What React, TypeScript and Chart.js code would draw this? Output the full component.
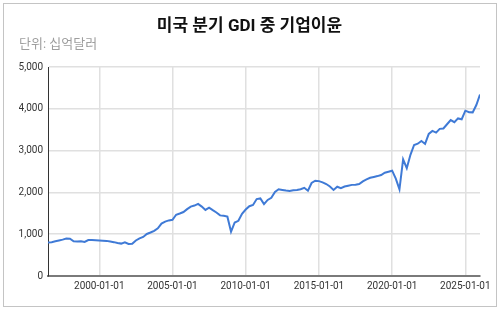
import React, { useEffect, useRef } from "react";
import { Chart, registerables } from "chart.js";

Chart.register(...registerables);

const titleText = "미국 분기 GDI 중 기업이윤";
const subtitleText = "단위: 십억달러";

// quarterly series, first quarter = 1996-07-01
const firstYear = 1996;
const firstQuarter = 3; // Q3
const profits = [
  800, 810, 830, 850, 870, 895, 890, 830, 825, 830,
  815, 860, 860, 855, 850, 845, 840, 825, 810, 790,
  775, 805, 765, 770, 850, 900, 935, 1005, 1040, 1080,
  1140, 1255, 1300, 1330, 1345, 1465, 1495, 1530, 1600, 1660,
  1685, 1725, 1660, 1580, 1635, 1575, 1520, 1450, 1440, 1420,
  1060, 1280, 1320, 1490, 1590, 1670, 1700, 1840, 1855, 1720,
  1820, 1870, 2010, 2075, 2060, 2045, 2035, 2050, 2060, 2075,
  2110, 2040, 2225, 2280, 2270, 2240, 2200, 2140, 2060, 2135,
  2100, 2140, 2160, 2180, 2185, 2200, 2265, 2310, 2350, 2370,
  2390, 2415, 2470, 2495, 2520, 2330, 2073, 2790, 2580, 2900,
  3135, 3165, 3230, 3160, 3400, 3470, 3430, 3520, 3530, 3630,
  3730, 3680, 3770, 3750, 3955, 3920, 3915, 4090, 4340,
];
const xTickYears = [2000, 2005, 2010, 2015, 2020, 2025];
const yTicks = [0, 1000, 2000, 3000, 4000, 5000];

const startX = firstYear + (firstQuarter - 1) / 4;
const points = profits.map((v, i) => ({ x: startX + i * 0.25, y: v }));

const FONT = "Roboto, 'Noto Sans CJK KR', sans-serif";

export default function App() {
  const ref = useRef<HTMLCanvasElement | null>(null);

  useEffect(() => {
    document.body.style.margin = "0";
    const ctx = ref.current!;
    const chart = new Chart(ctx, {
      type: "line",
      data: {
        datasets: [
          {
            data: points,
            borderColor: "#3f7ad6",
            borderWidth: 2,
            pointRadius: 0,
            tension: 0,
            fill: false,
          },
        ],
      },
      options: {
        animation: false,
        responsive: false,
        maintainAspectRatio: false,
        layout: { padding: { left: 15, right: 16, top: 0, bottom: 0 } },
        plugins: {
          legend: { display: false },
          tooltip: { enabled: false },
          title: {
            display: true,
            text: titleText,
            color: "#111",
            font: { family: FONT, size: 17, weight: "bold", lineHeight: 1.2 },
            padding: { top: 13, bottom: 0 },
          },
          subtitle: {
            display: true,
            text: subtitleText,
            align: "start",
            color: "#9e9e9e",
            font: { family: FONT, size: 13, lineHeight: 1.2 },
            padding: { top: 0, bottom: 14 },
          },
        },
        scales: {
          x: {
            type: "linear",
            min: startX,
            max: startX + (profits.length - 1) * 0.25,
            afterBuildTicks: (scale: any) => {
              scale.ticks = xTickYears.map((v) => ({ value: v }));
            },
            afterFit: (scale: any) => {
              scale.height = 30;
            },
            ticks: {
              autoSkip: false,
              maxRotation: 0,
              padding: 4,
              color: "#333",
              font: { family: FONT, size: 10 },
              callback: (v: any) => `${v}-01-01`,
            },
            grid: { color: "#e0e0e0", lineWidth: 1.5, drawTicks: false },
            border: { display: true, color: "#7a7a7a", width: 2 },
          },
          y: {
            min: 0,
            max: 5000,
            afterBuildTicks: (scale: any) => {
              scale.ticks = yTicks.map((v) => ({ value: v }));
            },
            afterFit: (scale: any) => {
              scale.width = 29;
            },
            ticks: {
              padding: 5,
              color: "#333",
              font: { family: FONT, size: 10 },
              callback: (v: any) => Number(v).toLocaleString("en-US"),
            },
            grid: { color: "#e0e0e0", lineWidth: 1.5, drawTicks: false },
            border: { display: true, color: "#333", width: 1 },
          },
        },
      },
    });
    return () => chart.destroy();
  }, []);

  return (
    <div
      style={{
        position: "fixed",
        left: 0,
        top: 0,
        width: 500,
        height: 311,
        background: "#fff",
      }}
    >
      <div
        style={{
          position: "absolute",
          left: 3,
          top: 3,
          width: 492,
          height: 302,
          border: "1px solid #c4c4c4",
          background: "#fff",
        }}
      >
        <canvas
          ref={ref}
          width={492}
          height={302}
          style={{ display: "block", width: 492, height: 302 }}
        />
      </div>
    </div>
  );
}
